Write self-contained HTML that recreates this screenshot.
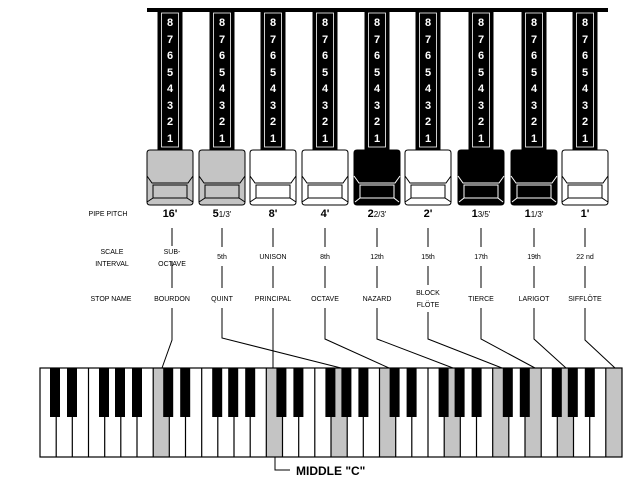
<!DOCTYPE html>
<html><head><meta charset="utf-8"><style>
html,body{margin:0;padding:0;background:#fff;}
svg{display:block;font-family:"Liberation Sans",Arial,sans-serif;}
.n{fill:#fff;font-weight:bold;font-size:11px;text-anchor:middle;}
.s{font-size:7px;text-anchor:middle;fill:#000;}
.p{font-size:11px;font-weight:bold;text-anchor:middle;}
.l{stroke:#000;stroke-width:1;fill:none;}
</style></head><body>
<svg width="640" height="479" viewBox="0 0 640 479" xmlns="http://www.w3.org/2000/svg">
<defs>
<g id="bar">
<rect x="-12.5" y="10" width="25" height="141" fill="#000"/>
<rect x="-8.5" y="13" width="17" height="134" fill="none" stroke="#fff" stroke-width="0.8"/>
</g>
<g id="bk">
<rect x="11" y="368" width="10" height="49"/><rect x="28" y="368" width="10" height="49"/><rect x="60" y="368" width="10" height="49"/><rect x="76" y="368" width="10" height="49"/><rect x="93" y="368" width="10" height="49"/>
</g>
</defs>
<rect x="147" y="8" width="461" height="4" fill="#000"/>

<g transform="translate(170,0)"><use href="#bar"/><text class="n"><tspan x="0" y="26">8</tspan><tspan x="0" y="43">7</tspan><tspan x="0" y="59">6</tspan><tspan x="0" y="76">5</tspan><tspan x="0" y="92">4</tspan><tspan x="0" y="109">3</tspan><tspan x="0" y="125">2</tspan><tspan x="0" y="142">1</tspan></text>
<path d="M-23,153 q0,-3 3,-3 h40 q3,0 3,3 v49 q0,3 -3,3 h-40 q-3,0 -3,-3 z" fill="#c4c4c4" stroke="#000"/><path d="M-23,176 l5,7 h36 l5,-7 M-23,202 l6,-4 M23,202 l-6,-4" class="l"/><rect x="-17" y="185" width="34" height="13" fill="#c4c4c4" stroke="#000"/></g>

<g transform="translate(222,0)"><use href="#bar"/><text class="n"><tspan x="0" y="26">8</tspan><tspan x="0" y="43">7</tspan><tspan x="0" y="59">6</tspan><tspan x="0" y="76">5</tspan><tspan x="0" y="92">4</tspan><tspan x="0" y="109">3</tspan><tspan x="0" y="125">2</tspan><tspan x="0" y="142">1</tspan></text>
<path d="M-23,153 q0,-3 3,-3 h40 q3,0 3,3 v49 q0,3 -3,3 h-40 q-3,0 -3,-3 z" fill="#c4c4c4" stroke="#000"/><path d="M-23,176 l5,7 h36 l5,-7 M-23,202 l6,-4 M23,202 l-6,-4" class="l"/><rect x="-17" y="185" width="34" height="13" fill="#c4c4c4" stroke="#000"/></g>

<g transform="translate(273,0)"><use href="#bar"/><text class="n"><tspan x="0" y="26">8</tspan><tspan x="0" y="43">7</tspan><tspan x="0" y="59">6</tspan><tspan x="0" y="76">5</tspan><tspan x="0" y="92">4</tspan><tspan x="0" y="109">3</tspan><tspan x="0" y="125">2</tspan><tspan x="0" y="142">1</tspan></text>
<path d="M-23,153 q0,-3 3,-3 h40 q3,0 3,3 v49 q0,3 -3,3 h-40 q-3,0 -3,-3 z" fill="#fff" stroke="#000"/><path d="M-23,176 l5,7 h36 l5,-7 M-23,202 l6,-4 M23,202 l-6,-4" class="l"/><rect x="-17" y="185" width="34" height="13" fill="#fff" stroke="#000"/></g>

<g transform="translate(325,0)"><use href="#bar"/><text class="n"><tspan x="0" y="26">8</tspan><tspan x="0" y="43">7</tspan><tspan x="0" y="59">6</tspan><tspan x="0" y="76">5</tspan><tspan x="0" y="92">4</tspan><tspan x="0" y="109">3</tspan><tspan x="0" y="125">2</tspan><tspan x="0" y="142">1</tspan></text>
<path d="M-23,153 q0,-3 3,-3 h40 q3,0 3,3 v49 q0,3 -3,3 h-40 q-3,0 -3,-3 z" fill="#fff" stroke="#000"/><path d="M-23,176 l5,7 h36 l5,-7 M-23,202 l6,-4 M23,202 l-6,-4" class="l"/><rect x="-17" y="185" width="34" height="13" fill="#fff" stroke="#000"/></g>

<g transform="translate(377,0)"><use href="#bar"/><text class="n"><tspan x="0" y="26">8</tspan><tspan x="0" y="43">7</tspan><tspan x="0" y="59">6</tspan><tspan x="0" y="76">5</tspan><tspan x="0" y="92">4</tspan><tspan x="0" y="109">3</tspan><tspan x="0" y="125">2</tspan><tspan x="0" y="142">1</tspan></text>
<path d="M-23,153 q0,-3 3,-3 h40 q3,0 3,3 v49 q0,3 -3,3 h-40 q-3,0 -3,-3 z" fill="#000" stroke="#000"/><path d="M-23,176 l5,7 h36 l5,-7 M-22,202 l5,-4 M22,202 l-5,-4" stroke="#fff" fill="none"/><rect x="-17" y="185" width="34" height="13" fill="#000" stroke="#fff"/></g>

<g transform="translate(428,0)"><use href="#bar"/><text class="n"><tspan x="0" y="26">8</tspan><tspan x="0" y="43">7</tspan><tspan x="0" y="59">6</tspan><tspan x="0" y="76">5</tspan><tspan x="0" y="92">4</tspan><tspan x="0" y="109">3</tspan><tspan x="0" y="125">2</tspan><tspan x="0" y="142">1</tspan></text>
<path d="M-23,153 q0,-3 3,-3 h40 q3,0 3,3 v49 q0,3 -3,3 h-40 q-3,0 -3,-3 z" fill="#fff" stroke="#000"/><path d="M-23,176 l5,7 h36 l5,-7 M-23,202 l6,-4 M23,202 l-6,-4" class="l"/><rect x="-17" y="185" width="34" height="13" fill="#fff" stroke="#000"/></g>

<g transform="translate(481,0)"><use href="#bar"/><text class="n"><tspan x="0" y="26">8</tspan><tspan x="0" y="43">7</tspan><tspan x="0" y="59">6</tspan><tspan x="0" y="76">5</tspan><tspan x="0" y="92">4</tspan><tspan x="0" y="109">3</tspan><tspan x="0" y="125">2</tspan><tspan x="0" y="142">1</tspan></text>
<path d="M-23,153 q0,-3 3,-3 h40 q3,0 3,3 v49 q0,3 -3,3 h-40 q-3,0 -3,-3 z" fill="#000" stroke="#000"/><path d="M-23,176 l5,7 h36 l5,-7 M-22,202 l5,-4 M22,202 l-5,-4" stroke="#fff" fill="none"/><rect x="-17" y="185" width="34" height="13" fill="#000" stroke="#fff"/></g>

<g transform="translate(534,0)"><use href="#bar"/><text class="n"><tspan x="0" y="26">8</tspan><tspan x="0" y="43">7</tspan><tspan x="0" y="59">6</tspan><tspan x="0" y="76">5</tspan><tspan x="0" y="92">4</tspan><tspan x="0" y="109">3</tspan><tspan x="0" y="125">2</tspan><tspan x="0" y="142">1</tspan></text>
<path d="M-23,153 q0,-3 3,-3 h40 q3,0 3,3 v49 q0,3 -3,3 h-40 q-3,0 -3,-3 z" fill="#000" stroke="#000"/><path d="M-23,176 l5,7 h36 l5,-7 M-22,202 l5,-4 M22,202 l-5,-4" stroke="#fff" fill="none"/><rect x="-17" y="185" width="34" height="13" fill="#000" stroke="#fff"/></g>

<g transform="translate(585,0)"><use href="#bar"/><text class="n"><tspan x="0" y="26">8</tspan><tspan x="0" y="43">7</tspan><tspan x="0" y="59">6</tspan><tspan x="0" y="76">5</tspan><tspan x="0" y="92">4</tspan><tspan x="0" y="109">3</tspan><tspan x="0" y="125">2</tspan><tspan x="0" y="142">1</tspan></text>
<path d="M-23,153 q0,-3 3,-3 h40 q3,0 3,3 v49 q0,3 -3,3 h-40 q-3,0 -3,-3 z" fill="#fff" stroke="#000"/><path d="M-23,176 l5,7 h36 l5,-7 M-23,202 l6,-4 M23,202 l-6,-4" class="l"/><rect x="-17" y="185" width="34" height="13" fill="#fff" stroke="#000"/></g>

<text class="s" x="108" y="216">PIPE PITCH</text>
<text class="s" x="112" y="254">SCALE</text>
<text class="s" x="112" y="266">INTERVAL</text>
<text class="s" x="111" y="301">STOP NAME</text>

<text class="p" x="170" y="217">16'</text>
<text class="p" x="222" y="217"><tspan>5</tspan><tspan font-size="8" font-weight="normal">1/3'</tspan></text>
<text class="p" x="273" y="217">8'</text>
<text class="p" x="325" y="217">4'</text>
<text class="p" x="377" y="217"><tspan>2</tspan><tspan font-size="8" font-weight="normal">2/3'</tspan></text>
<text class="p" x="428" y="217">2'</text>
<text class="p" x="481" y="217"><tspan>1</tspan><tspan font-size="8" font-weight="normal">3/5'</tspan></text>
<text class="p" x="534" y="217"><tspan>1</tspan><tspan font-size="8" font-weight="normal">1/3'</tspan></text>
<text class="p" x="585" y="217">1'</text>

<text class="s" x="172" y="254">SUB-</text><text class="s" x="172" y="266">OCTAVE</text>
<text class="s" x="222" y="259">5th</text>
<text class="s" x="273" y="259">UNISON</text>
<text class="s" x="325" y="259">8th</text>
<text class="s" x="377" y="259">12th</text>
<text class="s" x="428" y="259">15th</text>
<text class="s" x="481" y="259">17th</text>
<text class="s" x="534" y="259">19th</text>
<text class="s" x="585" y="259">22 nd</text>

<text class="s" x="172" y="301">BOURDON</text>
<text class="s" x="222" y="301">QUINT</text>
<text class="s" x="273" y="301">PRINCIPAL</text>
<text class="s" x="325" y="301">OCTAVE</text>
<text class="s" x="377" y="301">NAZARD</text>
<text class="s" x="428" y="295">BLOCK</text><text class="s" x="428" y="307">FLÖTE</text>
<text class="s" x="481" y="301">TIERCE</text>
<text class="s" x="534" y="301">LARIGOT</text>
<text class="s" x="585" y="301">SIFFLÖTE</text>

<g class="l">
<path d="M172,228 V246 M172,262 V288 M172,308 V340 L162,368"/>
<path d="M222,228 V247 M222,266 V288 M222,308 V338 L341,368"/>
<path d="M273,228 V247 M273,266 V288 M273,308 V368"/>
<path d="M325,228 V247 M325,266 V288 M325,308 V339 L389,368"/>
<path d="M377,228 V247 M377,266 V288 M377,308 V339 L453,368"/>
<path d="M428,228 V247 M428,266 V285 M428,312 V339 L502,368"/>
<path d="M481,228 V247 M481,266 V288 M481,308 V339 L535,368"/>
<path d="M534,228 V247 M534,266 V288 M534,308 V339 L566,368"/>
<path d="M585,228 V247 M585,266 V288 M585,308 V340 L615,368"/>
</g>

<rect x="40" y="368" width="582" height="89" fill="#fff" stroke="#000"/>
<rect x="153.2" y="368" width="16.2" height="89" fill="#c4c4c4"/>
<rect x="266.4" y="368" width="16.2" height="89" fill="#c4c4c4"/>
<rect x="331.1" y="368" width="16.2" height="89" fill="#c4c4c4"/>
<rect x="379.6" y="368" width="16.2" height="89" fill="#c4c4c4"/>
<rect x="444.3" y="368" width="16.2" height="89" fill="#c4c4c4"/>
<rect x="492.8" y="368" width="16.2" height="89" fill="#c4c4c4"/>
<rect x="525.2" y="368" width="16.2" height="89" fill="#c4c4c4"/>
<rect x="557.5" y="368" width="16.2" height="89" fill="#c4c4c4"/>
<rect x="606" y="368" width="16" height="89" fill="#c4c4c4"/>
<path stroke="#000" stroke-width="1.2" d="M56.2,368V457M72.3,368V457M88.5,368V457M104.7,368V457M120.8,368V457M137,368V457M153.2,368V457M169.3,368V457M185.5,368V457M201.7,368V457M217.8,368V457M234,368V457M250.2,368V457M266.3,368V457M282.5,368V457M298.7,368V457M314.8,368V457M331,368V457M347.2,368V457M363.3,368V457M379.5,368V457M395.7,368V457M411.8,368V457M428,368V457M444.2,368V457M460.3,368V457M476.5,368V457M492.7,368V457M508.8,368V457M525,368V457M541.2,368V457M557.3,368V457M573.5,368V457M589.7,368V457M605.8,368V457"/>
<rect x="40" y="368" width="582" height="89" fill="none" stroke="#000" stroke-width="1.2"/>
<g fill="#000">
<use href="#bk" transform="translate(39,0)"/>
<use href="#bk" transform="translate(152.2,0)"/>
<use href="#bk" transform="translate(265.4,0)"/>
<use href="#bk" transform="translate(378.6,0)"/>
<use href="#bk" transform="translate(491.8,0)"/>
</g>

<path d="M275,457 V470 H290" class="l"/>
<text x="296" y="475" font-size="12" font-weight="bold">MIDDLE "C"</text>
</svg>
</body></html>
